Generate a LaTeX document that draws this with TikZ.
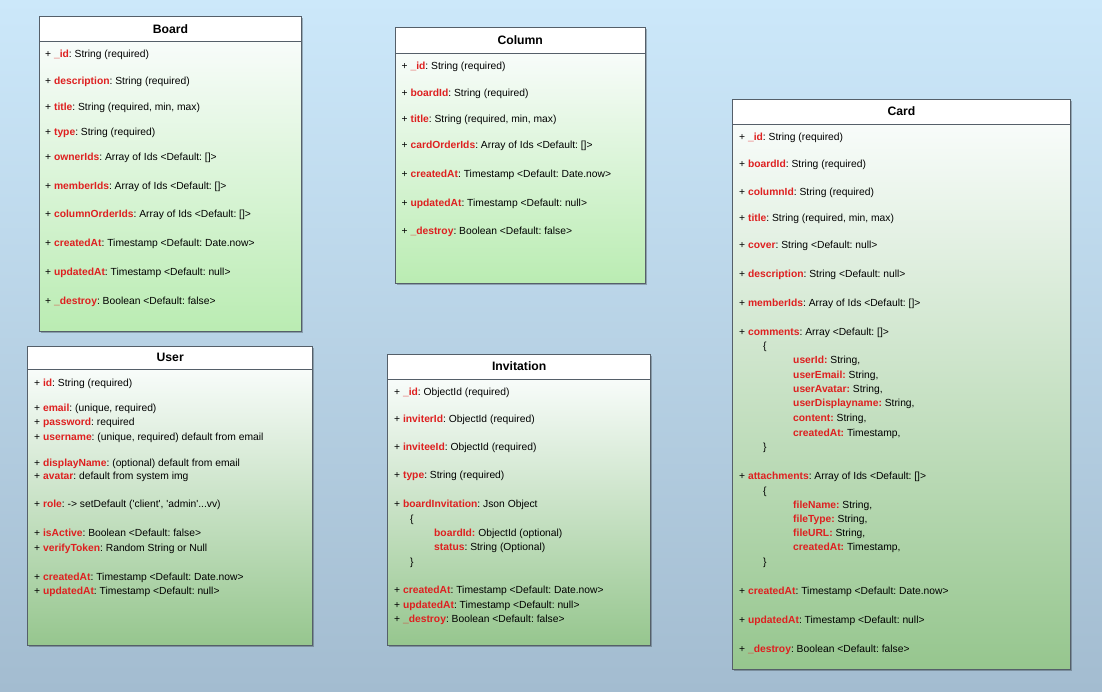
\documentclass[tikz,border=0pt]{standalone}
\usepackage{fontspec}
\setmainfont{Liberation Sans}
\frenchspacing
\definecolor{bgtop}{RGB}{204,232,250}
\definecolor{bgbot}{RGB}{163,188,208}
\definecolor{bodytop}{RGB}{248,252,250}
\definecolor{brightgreen}{RGB}{186,236,178}
\definecolor{darkgreen}{RGB}{150,198,142}
\definecolor{keyred}{RGB}{222,32,32}
\definecolor{boxline}{RGB}{85,95,105}

\newcommand{\fld}[2]{+ \textcolor{keyred}{\textbf{#1}}: #2}
\newcommand{\subfld}[2]{\textcolor{keyred}{\textbf{#1:}} #2}
% class box: name, title, x1, y1, x2, y2, header height, bottom colour
\newcommand{\classbox}[8]{%
  \fill[black, opacity=.25] (#3+1.5,#4+1.5) rectangle (#5+1.5,#6+1.5);
  \shade[top color=bodytop, bottom color=#8] (#3,#4+#7) rectangle (#5,#6);
  \node[head, anchor=north west, minimum width={(#5-#3)*1pt},
    minimum height={#7*1pt}] (#1) at (#3,#4) {#2};
  \draw[color=boxline] (#1.south west) -- (#1.south east);
  \draw[color=boxline] (#3,#4) rectangle (#5,#6);
}

\begin{document}
\begin{tikzpicture}[x=1pt, y=-1pt,
    head/.style={fill=white, inner sep=0pt, font=\fontsize{12.2}{14}\selectfont\bfseries},
    fld/.style={anchor=west, inner sep=0pt, text height=7pt, text depth=0pt,
      font=\fontsize{10.3}{12}\selectfont}
  ]
    \shade[top color=bgtop, bottom color=bgbot] (0,0) rectangle (1102,691);
    \useasboundingbox (0,0) rectangle (1102,691);

    % Board
    \classbox{board}{Board}{39}{16}{301.5}{331.5}{25}{brightgreen}
    \node[fld] (bd1) at (45,54) {\fld{\_id}{String (required)}};
    \node[fld] (bd2) at (45,81) {\fld{description}{String (required)}};
    \node[fld] (bd3) at (45,106.5) {\fld{title}{String (required, min, max)}};
    \node[fld] (bd4) at (45,131.5) {\fld{type}{String (required)}};
    \node[fld] (bd5) at (45,157) {\fld{ownerIds}{Array of Ids <Default: []>}};
    \node[fld] (bd6) at (45,186) {\fld{memberIds}{Array of Ids <Default: []>}};
    \node[fld] (bd7) at (45,214) {\fld{columnOrderIds}{Array of Ids <Default: []>}};
    \node[fld] (bd8) at (45,242.5) {\fld{createdAt}{Timestamp <Default: Date.now>}};
    \node[fld] (bd9) at (45,271.5) {\fld{updatedAt}{Timestamp <Default: null>}};
    \node[fld] (bd10) at (45,300.5) {\fld{\_destroy}{Boolean <Default: false>}};

    % Column
    \classbox{column}{Column}{395}{27}{645}{283}{26}{brightgreen}
    \node[fld] (co1) at (401.5,65.5) {\fld{\_id}{String (required)}};
    \node[fld] (co2) at (401.5,92.5) {\fld{boardId}{String (required)}};
    \node[fld] (co3) at (401.5,118.5) {\fld{title}{String (required, min, max)}};
    \node[fld] (co4) at (401.5,145) {\fld{cardOrderIds}{Array of Ids <Default: []>}};
    \node[fld] (co5) at (401.5,174) {\fld{createdAt}{Timestamp <Default: Date.now>}};
    \node[fld] (co6) at (401.5,202.5) {\fld{updatedAt}{Timestamp <Default: null>}};
    \node[fld] (co7) at (401.5,230.5) {\fld{\_destroy}{Boolean <Default: false>}};

    % Card
    \classbox{card}{Card}{732.5}{99}{1070}{669}{24.5}{darkgreen}
    \node[fld] (ca1) at (739,136.5) {\fld{\_id}{String (required)}};
    \node[fld] (ca2) at (739,163.5) {\fld{boardId}{String (required)}};
    \node[fld] (ca3) at (739,191.5) {\fld{columnId}{String (required)}};
    \node[fld] (ca4) at (739,217.5) {\fld{title}{String (required, min, max)}};
    \node[fld] (ca5) at (739,245) {\fld{cover}{String <Default: null>}};
    \node[fld] (ca6) at (739,273.5) {\fld{description}{String <Default: null>}};
    \node[fld] (ca7) at (739,302.5) {\fld{memberIds}{Array of Ids <Default: []>}};
    \node[fld] (ca8) at (739,332) {\fld{comments}{Array <Default: []>}};
    \node[fld] (cm0) at (763,346) {\{};
    \node[fld] (cm1) at (793,360) {\subfld{userId}{String,}};
    \node[fld] (cm2) at (793,374.5) {\subfld{userEmail}{String,}};
    \node[fld] (cm3) at (793,388.5) {\subfld{userAvatar}{String,}};
    \node[fld] (cm4) at (793,403) {\subfld{userDisplayname}{String,}};
    \node[fld] (cm5) at (793,417.5) {\subfld{content}{String,}};
    \node[fld] (cm6) at (793,432.5) {\subfld{createdAt}{Timestamp,}};
    \node[fld] (cm7) at (763,446.5) {\}};
    \node[fld] (ca9) at (739,475.5) {\fld{attachments}{Array of Ids <Default: []>}};
    \node[fld] (at0) at (763,491) {\{};
    \node[fld] (at1) at (793,505) {\subfld{fileName}{String,}};
    \node[fld] (at2) at (793,519) {\subfld{fileType}{String,}};
    \node[fld] (at3) at (793,532.5) {\subfld{fileURL}{String,}};
    \node[fld] (at4) at (793,547) {\subfld{createdAt}{Timestamp,}};
    \node[fld] (at5) at (763,561.5) {\}};
    \node[fld] (ca10) at (739,590.5) {\fld{createdAt}{Timestamp <Default: Date.now>}};
    \node[fld] (ca11) at (739,620) {\fld{updatedAt}{Timestamp <Default: null>}};
    \node[fld] (ca12) at (739,648.5) {\fld{\_destroy}{Boolean <Default: false>}};

    % User
    \classbox{user}{User}{27.5}{346}{312.5}{645.5}{23}{darkgreen}
    \node[fld] (us1) at (34,382.5) {\fld{id}{String (required)}};
    \node[fld] (us2) at (34,408) {\fld{email}{(unique, required)}};
    \node[fld] (us3) at (34,421.5) {\fld{password}{required}};
    \node[fld] (us4) at (34,436.5) {\fld{username}{(unique, required) default from email}};
    \node[fld] (us5) at (34,462.5) {\fld{displayName}{(optional) default from email}};
    \node[fld] (us6) at (34,476) {\fld{avatar}{default from system img}};
    \node[fld] (us7) at (34,504) {\fld{role}{-> setDefault (\textquotesingle client\textquotesingle, \textquotesingle admin\textquotesingle...vv)}};
    \node[fld] (us8) at (34,533) {\fld{isActive}{Boolean <Default: false>}};
    \node[fld] (us9) at (34,547.5) {\fld{verifyToken}{Random String or Null}};
    \node[fld] (us10) at (34,576.5) {\fld{createdAt}{Timestamp <Default: Date.now>}};
    \node[fld] (us11) at (34,590.5) {\fld{updatedAt}{Timestamp <Default: null>}};

    % Invitation
    \classbox{invitation}{Invitation}{387.5}{354}{650.5}{645.5}{24.5}{darkgreen}
    \node[fld] (in1) at (394,391.5) {\fld{\_id}{ObjectId (required)}};
    \node[fld] (in2) at (394,418.5) {\fld{inviterId}{ObjectId (required)}};
    \node[fld] (in3) at (394,446.5) {\fld{inviteeId}{ObjectId (required)}};
    \node[fld] (in4) at (394,474.5) {\fld{type}{String (required)}};
    \node[fld] (in5) at (394,504) {\fld{boardInvitation}{Json Object}};
    \node[fld] (bi0) at (410,518.5) {\{};
    \node[fld] (bi1) at (434,532.5) {\subfld{boardId}{ObjectId (optional)}};
    \node[fld] (bi2) at (434,546.5) {\textcolor{keyred}{\textbf{status}}: String (Optional)};
    \node[fld] (bi3) at (410,561.5) {\}};
    \node[fld] (in6) at (394,589.5) {\fld{createdAt}{Timestamp <Default: Date.now>}};
    \node[fld] (in7) at (394,604.5) {\fld{updatedAt}{Timestamp <Default: null>}};
    \node[fld] (in8) at (394,619) {\fld{\_destroy}{Boolean <Default: false>}};
  \end{tikzpicture}
\end{document}
